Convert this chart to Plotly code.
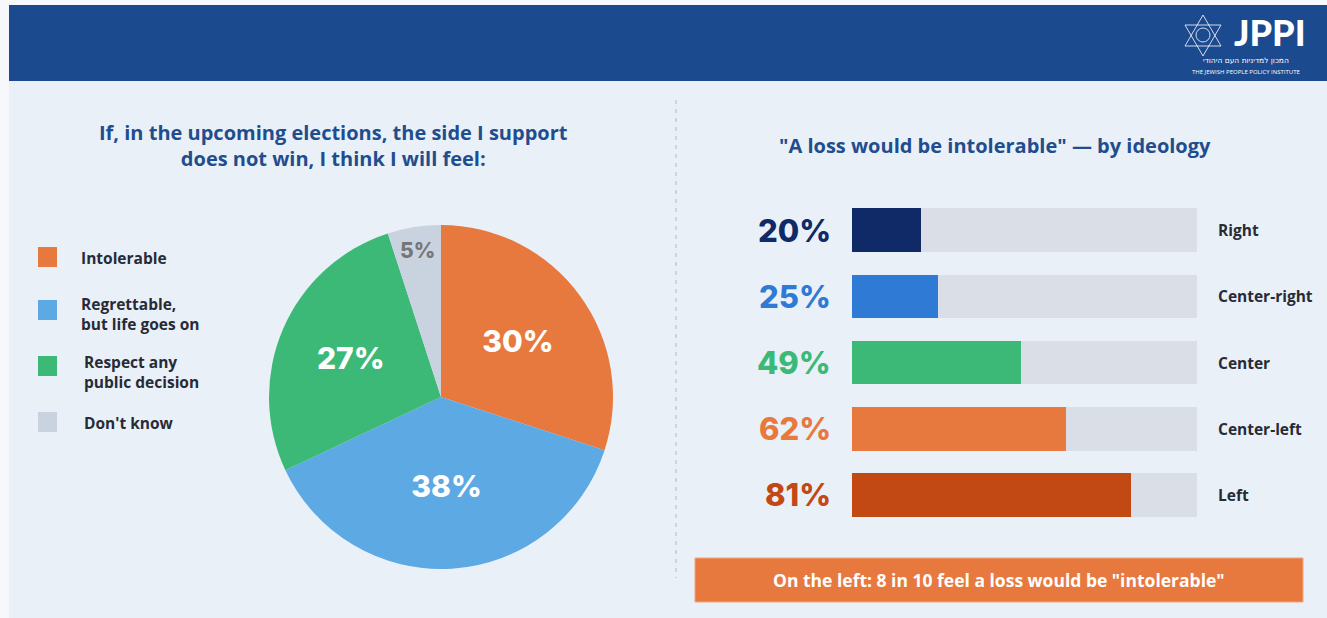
import plotly.graph_objects as go

W, H = 1327, 618

# Pie: reaction if the supported side loses
pie_labels = ["Intolerable", "Regrettable, but life goes on", "Respect any public decision", "Don't know"]
pie_values = [30, 38, 27, 5]
pie_colors = ["#E8793E", "#5DA9E3", "#3DB977", "#C9D3DF"]
legend_lines = ["Intolerable", "Regrettable,<br>but life goes on", "Respect any<br>public decision", "Don't know"]

# Bars: "a loss would be intolerable" by ideology
ideologies = ["Right", "Center-right", "Center", "Center-left", "Left"]
intolerable_pct = [20, 25, 49, 62, 81]
bar_colors = ["#0F2A66", "#2F7AD4", "#3DB977", "#E8793E", "#C24913"]
track_max = [100, 100, 100, 100, 100]

NUM_FONT = "Inter, Lato, sans-serif"


def px(x):
    return x / W


def py(y):
    return 1 - y / H


fig = go.Figure()

# pie
cx, cy, r = 441, 397, 172
fig.add_trace(go.Pie(
    labels=pie_labels, values=pie_values, sort=False, direction="clockwise", rotation=0,
    marker=dict(colors=pie_colors, line=dict(width=0)),
    text=[f"{v}%" for v in pie_values], textinfo="text", textposition="inside",
    insidetextorientation="horizontal",
    insidetextfont=dict(family=NUM_FONT, size=[30, 30, 30, 21],
                        color=["white", "white", "white", "#76767A"], weight=800),
    domain=dict(x=[px(cx - r), px(cx + r)], y=[py(cy + r), py(cy - r)]),
    showlegend=False, hoverinfo="label+percent",
))

# bar tracks and values
fig.add_trace(go.Bar(
    y=ideologies, x=track_max, orientation="h", marker=dict(color="#D9DEE7", line=dict(width=0)),
    width=0.66, hoverinfo="skip", showlegend=False,
))
fig.add_trace(go.Bar(
    y=ideologies, x=intolerable_pct, orientation="h", marker=dict(color=bar_colors, line=dict(width=0)),
    width=0.66, showlegend=False, hovertemplate="%{y}: %{x}%<extra></extra>",
))

bar_top, bar_bot = 230 - 33.1, 495 + 33.1
fig.update_layout(
    width=W, height=H, margin=dict(l=0, r=0, t=0, b=0),
    paper_bgcolor="#F7F8FC", plot_bgcolor="rgba(0,0,0,0)",
    barmode="overlay", bargap=0,
    xaxis=dict(domain=[px(852), px(1197)], range=[0, 100], visible=False, fixedrange=True),
    yaxis=dict(domain=[py(bar_bot), py(bar_top)], autorange="reversed", visible=False,
               categoryorder="array", categoryarray=ideologies, fixedrange=True),
    font=dict(family="Open Sans, sans-serif"),
)

shapes = [
    # panel and header
    dict(type="rect", xref="paper", yref="paper", x0=px(9), x1=1, y0=0, y1=py(81),
         fillcolor="#EAF0F8", line=dict(width=0), layer="below"),
    dict(type="rect", xref="paper", yref="paper", x0=px(9), x1=1, y0=py(81), y1=py(5),
         fillcolor="#1B4A8F", line=dict(width=0), layer="below"),
    # divider
    dict(type="line", xref="paper", yref="paper", x0=px(676), x1=px(676), y0=py(100), y1=py(578),
         line=dict(color="#C4CAD4", width=1.5, dash="4px,5px")),
    # callout box
    dict(type="rect", xref="paper", yref="paper", x0=px(695), x1=px(1303), y0=py(602), y1=py(558),
         fillcolor="#E8793E", line=dict(color="#F2A57C", width=1)),
    # logo star
    dict(type="path", xref="paper", yref="paper",
         path=f"M {px(1203)},{py(15)} L {px(1221)},{py(46)} L {px(1185)},{py(46)} Z",
         line=dict(color="rgba(255,255,255,0.8)", width=1)),
    dict(type="path", xref="paper", yref="paper",
         path=f"M {px(1203)},{py(56)} L {px(1221)},{py(25)} L {px(1185)},{py(25)} Z",
         line=dict(color="rgba(255,255,255,0.8)", width=1)),
    dict(type="circle", xref="paper", yref="paper", x0=px(1196), x1=px(1210), y0=py(42), y1=py(28),
         line=dict(color="rgba(255,255,255,0.8)", width=1)),
]

# legend squares
legend_y = [257, 310, 366, 422]
for c, yy in zip(pie_colors, legend_y):
    shapes.append(dict(type="rect", xref="paper", yref="paper", x0=px(38), x1=px(57),
                       y0=py(yy + 10), y1=py(yy - 10), fillcolor=c, line=dict(width=0)))

annotations = []
legend_x = [79, 79, 82, 82]
legend_ty = [258, 314, 372, 423]
for t, x, yy in zip(legend_lines, legend_x, legend_ty):
    annotations.append(dict(xref="paper", yref="paper", x=px(x), y=py(yy), text=t, showarrow=False,
                            xanchor="left", yanchor="middle", align="left",
                            font=dict(family="Open Sans, sans-serif", size=15.5, color="#262B36", weight="bold")))

title_font = dict(family="Open Sans, sans-serif", size=20, color="#1F4D8E", weight="bold")
annotations += [
    dict(xref="paper", yref="paper", x=px(333), y=py(146),
         text="If, in the upcoming elections, the side I support<br>does not win, I think I will feel:",
         showarrow=False, xanchor="center", yanchor="middle", align="center", font=title_font),
    dict(xref="paper", yref="paper", x=px(995), y=py(146),
         text="\"A loss would be intolerable\" — by ideology",
         showarrow=False, xanchor="center", yanchor="middle", font=title_font),
    dict(xref="paper", yref="paper", x=px(999), y=py(580),
         text="On the left: 8 in 10 feel a loss would be \"intolerable\"",
         showarrow=False, xanchor="center", yanchor="middle",
         font=dict(family="Open Sans, sans-serif", size=17.5, color="white", weight="bold")),
    # logo text
    dict(xref="paper", yref="paper", x=px(1270), y=py(32), text="JPPI", showarrow=False,
         xanchor="center", yanchor="middle",
         font=dict(family="Lato, sans-serif", size=36, color="white", weight=900)),
    dict(xref="paper", yref="paper", x=px(1246), y=py(61), text="המכון למדיניות העם היהודי",
         showarrow=False, xanchor="center", yanchor="middle",
         font=dict(family="DejaVu Sans, sans-serif", size=7.5, color="white")),
    dict(xref="paper", yref="paper", x=px(1246), y=py(72), text="THE JEWISH PEOPLE POLICY INSTITUTE",
         showarrow=False, xanchor="center", yanchor="middle",
         font=dict(family="Open Sans, sans-serif", size=6, color="white")),
]

for name, v, c in zip(ideologies, intolerable_pct, bar_colors):
    annotations.append(dict(xref="paper", yref="y", x=px(833), y=name, text=f"{v}%", showarrow=False,
                            xanchor="right", yanchor="middle",
                            font=dict(family=NUM_FONT, size=31, color=c, weight=800)))
    annotations.append(dict(xref="paper", yref="y", x=px(1216), y=name, text=name, showarrow=False,
                            xanchor="left", yanchor="middle",
                            font=dict(family="Open Sans, sans-serif", size=15.5, color="#262B36", weight="bold")))

fig.update_layout(shapes=shapes, annotations=annotations)
fig.write_html("out.html")
